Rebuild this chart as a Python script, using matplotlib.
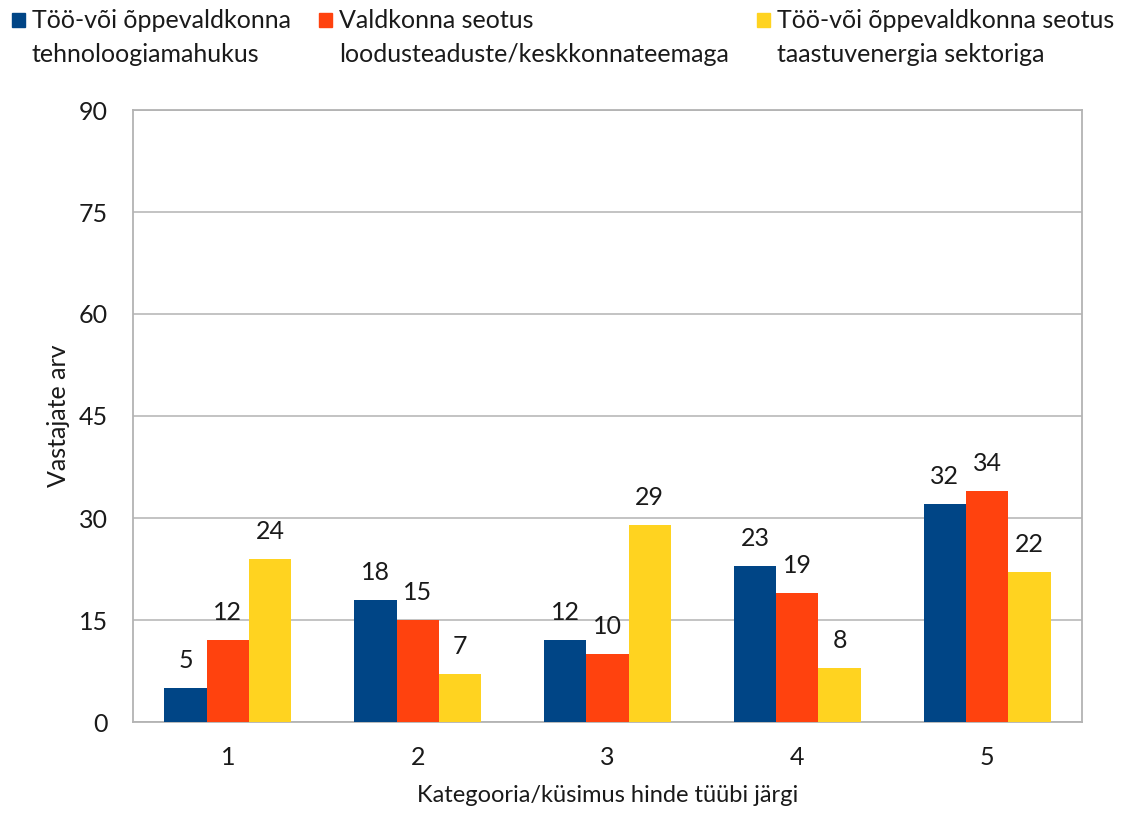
import matplotlib
matplotlib.use("Agg")
import matplotlib.pyplot as plt
from matplotlib.patches import Rectangle
import numpy as np

categories = ["1", "2", "3", "4", "5"]
series_names = [
    "Töö-või õppevaldkonna\ntehnoloogiamahukus",
    "Valdkonna seotus\nloodusteaduste/keskkonnateemaga",
    "Töö-või õppevaldkonna seotus\ntaastuvenergia sektoriga",
]
tech = [5, 18, 12, 23, 32]
nature = [12, 15, 10, 19, 34]
renew = [24, 7, 29, 8, 22]
yticks = [0, 15, 30, 45, 60, 75, 90]
ylabel = "Vastajate arv"
xlabel = "Kategooria/küsimus hinde tüübi järgi"

colors = ["#004586", "#FF420E", "#FFD320"]
FONT = "Lato"
plt.rcParams["font.family"] = [FONT, "DejaVu Sans"]
TXT = "#1a1a1a"

W, H = 1144, 814
fig = plt.figure(figsize=(W / 100, H / 100), dpi=100)
L, R, T, B = 133, 1082, 110, 722
ax = fig.add_axes([L / W, 1 - B / H, (R - L) / W, (B - T) / H])

x = np.arange(len(categories))
bw = 0.223
series = [tech, nature, renew]
for i, (vals, c) in enumerate(zip(series, colors)):
    pos = x + (i - 1) * bw
    ax.bar(pos, vals, width=bw, color=c, linewidth=0, zorder=3)
    for xp, v in zip(pos, vals):
        ax.annotate(str(v), (xp, v), xytext=(0, 14.4), textcoords="offset points",
                    ha="center", va="baseline", fontsize=18, color=TXT, zorder=4)

ax.set_xlim(-0.5, len(categories) - 0.5)
ax.set_ylim(0, 90)
ax.set_yticks(yticks)
ax.set_yticklabels([str(t) for t in yticks])
ax.set_xticks(x)
ax.set_xticklabels(categories)
ax.tick_params(axis="both", length=0, labelsize=18, colors=TXT)
ax.tick_params(axis="y", pad=18)
ax.tick_params(axis="x", pad=17)
ax.grid(axis="y", color="#b3b3b3", linewidth=1.1, zorder=0)
for s in ax.spines.values():
    s.set_color("#b3b3b3")
    s.set_linewidth(1.3)

ax.set_ylabel(ylabel, fontsize=18, color=TXT)
ax.yaxis.set_label_coords((58 - L) / (R - L), 0.5)
ax.yaxis.label.set_va("center")
ax.set_xlabel(xlabel, fontsize=17, color=TXT)
ax.xaxis.set_label_coords(0.5, (B - 796) / (B - T))
ax.xaxis.label.set_va("center")

# manual legend at top
fig.canvas.draw()
renderer = fig.canvas.get_renderer()
mx = 12
line_y = [20, 55]
msize = 13
for name, c in zip(series_names, colors):
    fig.patches.append(Rectangle((mx / W, 1 - (line_y[0] + msize / 2) / H), msize / W, msize / H,
                                 transform=fig.transFigure, color=c, figure=fig))
    tx = mx + 20
    width = 0
    for ln, ly in zip(name.split("\n"), line_y):
        t = fig.text(tx / W, 1 - ly / H, ln, fontsize=18, va="center", ha="left", color=TXT)
        bb = t.get_window_extent(renderer)
        width = max(width, bb.width)
    mx = tx + width + 28

fig.savefig("out.png", dpi=100)
